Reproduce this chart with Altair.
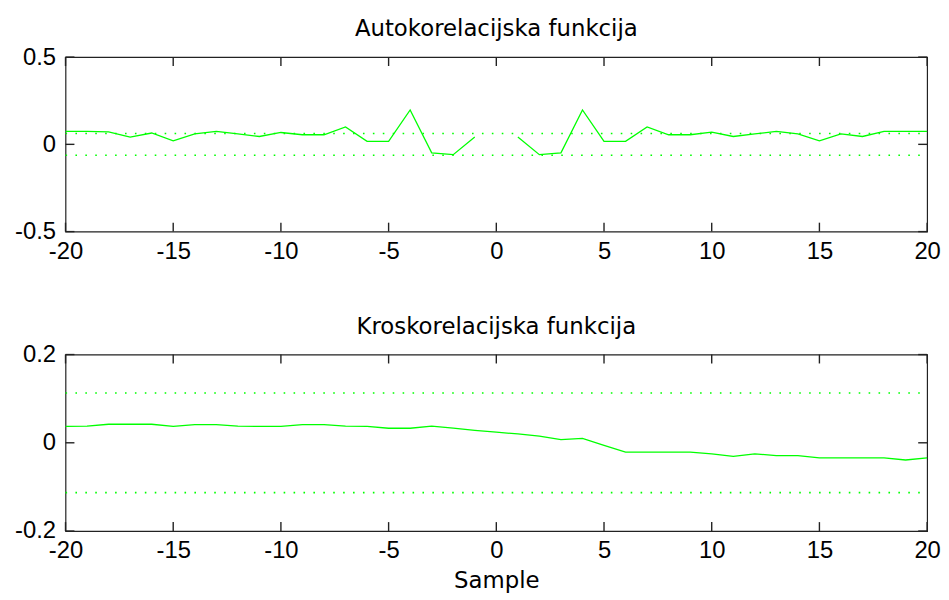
import altair as alt
import pandas as pd

# ---- data ----
lags = list(range(-20, 21))

acf = [0.074, 0.074, 0.072, 0.042, 0.065, 0.020, 0.060, 0.074, 0.060, 0.045,
       0.068, 0.055, 0.055, 0.100, 0.017, 0.017, 0.197, -0.049, -0.059, 0.042,
       None,
       0.042, -0.059, -0.049, 0.197, 0.017, 0.017, 0.100, 0.055, 0.055, 0.070,
       0.045, 0.060, 0.074, 0.060, 0.020, 0.060, 0.045, 0.074, 0.074, 0.074]

ccf = [0.037, 0.038, 0.042, 0.042, 0.042, 0.037, 0.041, 0.041, 0.038, 0.037,
       0.037, 0.041, 0.041, 0.038, 0.037, 0.033, 0.033, 0.038, 0.033, 0.028,
       0.024,
       0.020, 0.015, 0.007, 0.010, -0.006, -0.021, -0.021, -0.021, -0.021, -0.025,
       -0.031, -0.025, -0.029, -0.029, -0.034, -0.034, -0.034, -0.034, -0.039, -0.034]

acf_bound = [0.062, -0.062]
ccf_bound = [0.113, -0.113]

x_ticks = [-20, -15, -10, -5, 0, 5, 10, 15, 20]
acf_ticks = [-0.5, 0, 0.5]
ccf_ticks = [-0.2, 0, 0.2]

titles = ["Autokorelacijska funkcija", "Kroskorelacijska funkcija"]
x_title = "Sample"

# ---- styling ----
W = 869
H1 = 176
H2 = 178
TL = 9
GREEN = "#00ff00"
FRAME = "#222222"
LABEL_FONT = "Liberation Sans"
TITLE_FONT = "DejaVu Sans"

label_expr = ("datum.value == 0 ? '0' : (datum.value < 0 ? '-' : '') + "
              "format(abs(datum.value), '~g')")


def x_axis(title=None):
    kw = dict(values=x_ticks, ticks=False, domain=False, grid=False,
              labelFont=LABEL_FONT, labelFontSize=24, labelColor="#000",
              labelPadding=8, labelExpr=label_expr, labelFlush=False,
              labelOverlap=False)
    if title:
        kw.update(title=title, titleFont=TITLE_FONT, titleFontSize=23,
                  titleFontWeight="normal", titleColor="#000", titlePadding=7)
    else:
        kw.update(title=None)
    return alt.Axis(**kw)


def y_axis(vals):
    return alt.Axis(values=vals, ticks=False, domain=False, grid=False,
                    labelFont=LABEL_FONT, labelFontSize=24, labelColor="#000",
                    labelPadding=10, labelExpr=label_expr, labelFlush=False,
                    labelOverlap=False, title=None)


def panel(values, seg, bounds, yvals, ydom, H, title, xtitle=None):
    df = pd.DataFrame({"lag": lags, "val": values, "seg": seg})
    df = df.dropna()
    xs = alt.Scale(domain=[-20, 20], nice=False, zero=False)
    ys = alt.Scale(domain=ydom, nice=False, zero=False)
    xa = x_axis(xtitle)
    ya = y_axis(yvals)

    line = alt.Chart(df).mark_line(color=GREEN, strokeWidth=1.3).encode(
        x=alt.X("lag:Q", scale=xs, axis=xa),
        y=alt.Y("val:Q", scale=ys, axis=ya),
        detail="seg:N",
    )

    bdf = pd.DataFrame({"b": [bounds[0], bounds[0], bounds[1], bounds[1]],
                        "lag": [-20, 20, -20, 20],
                        "id": ["u", "u", "l", "l"]})
    dots = alt.Chart(bdf).mark_line(color=GREEN, strokeWidth=1.6,
                                    strokeDash=[1.6, 8.4]).encode(
        x=alt.X("lag:Q", scale=xs, axis=xa),
        y=alt.Y("b:Q", scale=ys, axis=ya),
        detail="id:N",
    )

    xt = pd.DataFrame({"t": x_ticks})
    yt = pd.DataFrame({"t": yvals})
    tk = dict(color=FRAME, strokeWidth=1.4)
    tick_b = alt.Chart(xt).mark_rule(**tk).encode(
        x=alt.X("t:Q", scale=xs, axis=xa), y=alt.value(H), y2=alt.value(H - TL))
    tick_t = alt.Chart(xt).mark_rule(**tk).encode(
        x=alt.X("t:Q", scale=xs, axis=xa), y=alt.value(0), y2=alt.value(TL))
    tick_l = alt.Chart(yt).mark_rule(**tk).encode(
        y=alt.Y("t:Q", scale=ys, axis=ya), x=alt.value(0), x2=alt.value(TL))
    tick_r = alt.Chart(yt).mark_rule(**tk).encode(
        y=alt.Y("t:Q", scale=ys, axis=ya), x=alt.value(W), x2=alt.value(W - TL))

    return alt.layer(dots, line, tick_b, tick_t, tick_l, tick_r).properties(
        width=W, height=H,
        title=alt.TitleParams(title, font=TITLE_FONT, fontSize=23,
                              fontWeight="normal", color="#000", offset=4,
                              anchor="middle"),
    )


seg_top = ["a" if l < 0 else "b" for l in lags]
seg_bot = ["a"] * len(lags)

top = panel(acf, seg_top, acf_bound, acf_ticks, [-0.5, 0.5], H1, titles[0])
bot = panel(ccf, seg_bot, ccf_bound, ccf_ticks, [-0.2, 0.2], H2, titles[1], x_title)

chart = alt.vconcat(top, bot, spacing=51).properties(
    padding={"left": 6, "top": 7, "right": 0, "bottom": 0},
    background="white",
).configure_view(stroke=FRAME, strokeWidth=1.2)

chart.save("out.html", embed_options={"renderer": "svg", "actions": False})
